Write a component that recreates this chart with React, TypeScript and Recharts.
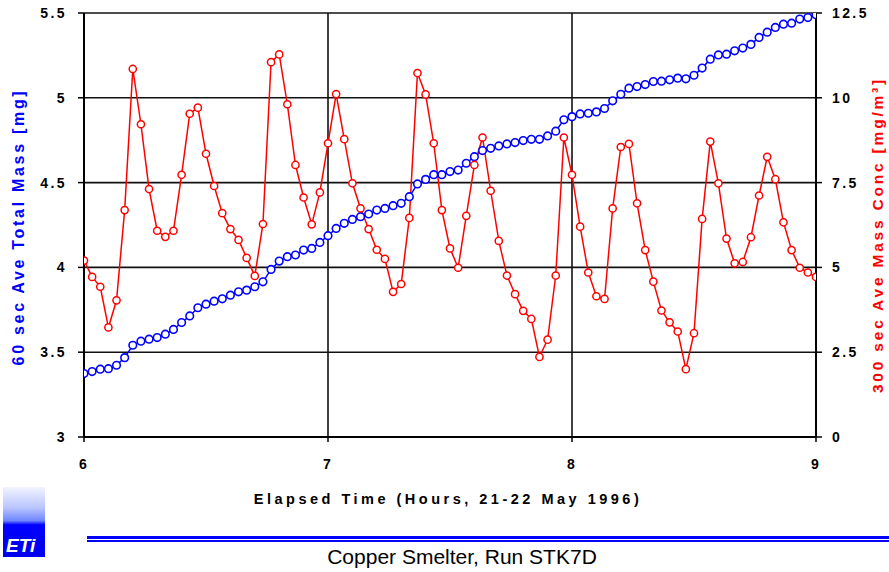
import {
  LineChart,
  Line,
  XAxis,
  YAxis,
  CartesianGrid,
  Label,
} from "recharts";

// sampling: one point every 2 minutes, from 5:58 to 9:02 (hours)
const START_HOUR = 6;
const STEP_MIN = 2;

// 60 sec average total mass [mg], left axis (first/last points fall outside the plot)
const totalMass = [
  3.36,
  3.374, 3.386, 3.4, 3.403, 3.423, 3.468, 3.541, 3.565, 3.577, 3.586,
  3.606, 3.634, 3.675, 3.714, 3.762, 3.783, 3.801, 3.815, 3.836, 3.856,
  3.866, 3.886, 3.915, 3.988, 4.037, 4.063, 4.073, 4.102, 4.112, 4.147,
  4.187, 4.23, 4.26, 4.283, 4.299, 4.315, 4.338, 4.348, 4.364, 4.378,
  4.417, 4.492, 4.519, 4.547, 4.547, 4.565, 4.574, 4.614, 4.653, 4.689,
  4.702, 4.716, 4.728, 4.736, 4.748, 4.755, 4.755, 4.775, 4.803, 4.87,
  4.889, 4.905, 4.909, 4.917, 4.937, 4.982, 5.021, 5.057, 5.066, 5.078,
  5.096, 5.098, 5.106, 5.116, 5.112, 5.133, 5.175, 5.228, 5.253, 5.257,
  5.277, 5.293, 5.315, 5.356, 5.387, 5.415, 5.434, 5.44, 5.464, 5.473,
  5.49,
  5.51,
];

// 300 sec average mass concentration [mg/m3], right axis
const massConc = [
  5.73,
  5.2, 4.72, 4.43, 3.23, 4.03, 6.69, 10.85, 9.22, 7.31, 6.08,
  5.9, 6.08, 7.73, 9.53, 9.71, 8.35, 7.4, 6.6, 6.13, 5.81,
  5.28, 4.75, 6.28, 11.05, 11.28, 9.81, 8.02, 7.06, 6.27, 7.21,
  8.66, 10.11, 8.78, 7.48, 6.74, 6.13, 5.52, 5.25, 4.28, 4.51,
  6.46, 10.73, 10.1, 8.66, 6.69, 5.56, 4.99, 6.52, 8.02, 8.83,
  7.26, 5.78, 4.76, 4.21, 3.72, 3.48, 2.36, 2.87, 4.76, 8.83,
  7.73, 6.2, 4.85, 4.15, 4.07, 6.74, 8.55, 8.64, 6.89, 5.51,
  4.58, 3.73, 3.38, 3.11, 2.0, 3.06, 6.43, 8.71, 7.48, 5.85,
  5.12, 5.16, 5.89, 7.12, 8.26, 7.6, 6.33, 5.51, 4.99, 4.85,
  4.72,
  4.46,
];

const xTicks = [6, 7, 8, 9];
const massTicks = [3, 3.5, 4, 4.5, 5, 5.5];
const concTicks = [0, 2.5, 5, 7.5, 10, 12.5];

const data = massConc.map((conc, i) => ({
  hour: START_HOUR + ((i - 1) * STEP_MIN) / 60,
  mass: totalMass[i],
  conc,
}));

const FONT = "'Liberation Sans', Arial, sans-serif";
const tickStyle = {
  fontFamily: FONT,
  fontSize: 14,
  fontWeight: 700,
  fill: "#000",
  letterSpacing: 2.4,
};

function AxisTitle({ viewBox, dx, dy, angle, color, text, size, spacing }: any) {
  const cx = viewBox.x + dx;
  const cy = viewBox.y + dy;
  return (
    <text
      x={cx}
      y={cy}
      transform={`rotate(${angle} ${cx} ${cy})`}
      textAnchor="middle"
      dominantBaseline="central"
      fill={color}
      style={{
        fontFamily: FONT,
        fontSize: size,
        fontWeight: 700,
        letterSpacing: spacing,
      }}
    >
      {text}
    </text>
  );
}

export default function App() {
  return (
    <div
      style={{
        position: "absolute",
        left: 0,
        top: 0,
        width: 889,
        height: 572,
        background: "#fff",
      }}
    >
      <LineChart
        width={889}
        height={572}
        data={data}
        margin={{ top: 13, right: 0, bottom: 0, left: 0 }}
      >
        <CartesianGrid
          yAxisId="mass"
          stroke="#111"
          strokeWidth={1.6}
          horizontalValues={massTicks}
          verticalValues={xTicks}
        />
        <XAxis
          dataKey="hour"
          type="number"
          domain={[6, 9]}
          ticks={xTicks}
          allowDataOverflow
          height={135}
          tickSize={5}
          tickMargin={17}
          tick={tickStyle}
          axisLine={{ stroke: "#000", strokeWidth: 2 }}
          tickLine={{ stroke: "#000", strokeWidth: 1.5 }}
        >
          <Label
            content={(p: any) => (
              <AxisTitle
                viewBox={p.viewBox}
                dx={364}
                dy={62}
                angle={0}
                size={14.5}
                spacing={3.5}
                color="#000"
                text="Elapsed Time (Hours, 21-22 May 1996)"
              />
            )}
          />
        </XAxis>
        <YAxis
          yAxisId="mass"
          orientation="left"
          domain={[3, 5.5]}
          ticks={massTicks}
          allowDataOverflow
          width={84}
          tickSize={6}
          tickMargin={11}
          tick={tickStyle}
          axisLine={{ stroke: "#000", strokeWidth: 2 }}
          tickLine={{ stroke: "#000", strokeWidth: 1.5 }}
        >
          <Label
            content={(p: any) => (
              <AxisTitle
                viewBox={p.viewBox}
                dx={18}
                dy={214}
                angle={-90}
                size={16}
                spacing={2.7}
                color="#0000ff"
                text="60 sec Ave Total Mass  [mg]"
              />
            )}
          />
        </YAxis>
        <YAxis
          yAxisId="conc"
          orientation="right"
          domain={[0, 12.5]}
          ticks={concTicks}
          allowDataOverflow
          width={73}
          tickSize={6}
          tickMargin={10}
          tick={tickStyle}
          axisLine={{ stroke: "#000", strokeWidth: 2 }}
          tickLine={{ stroke: "#000", strokeWidth: 1.5 }}
        >
          <Label
            content={(p: any) => (
              <AxisTitle
                viewBox={p.viewBox}
                dx={61}
                dy={222}
                angle={-90}
                size={15.5}
                spacing={2.8}
                color="#ff0000"
                text="300 sec Ave Mass Conc  [mg/m³]"
              />
            )}
          />
        </YAxis>
        <Line
          yAxisId="mass"
          dataKey="mass"
          type="linear"
          stroke="#0000ff"
          strokeWidth={1.5}
          dot={{ r: 3.8, fill: "#fff", stroke: "#0000ff", strokeWidth: 1.6 }}
          isAnimationActive={false}
        />
        <Line
          yAxisId="conc"
          dataKey="conc"
          type="linear"
          stroke="#ff0000"
          strokeWidth={1.5}
          dot={{ r: 3.6, fill: "#fff", stroke: "#ff0000", strokeWidth: 1.5 }}
          isAnimationActive={false}
        />
      </LineChart>

      {/* logo */}
      <div
        style={{
          position: "absolute",
          left: 3,
          top: 487,
          width: 42,
          height: 70,
          background:
            "linear-gradient(to bottom, #f2f4ff 0%, #b8c4ff 30%, #6f86ff 48%, #0000ff 54%, #0000ee 100%)",
        }}
      >
        <div
          style={{
            position: "absolute",
            left: 3,
            bottom: 1,
            color: "#fff",
            fontFamily: FONT,
            fontWeight: 700,
            fontStyle: "italic",
            fontSize: 19,
            lineHeight: "20px",
          }}
        >
          ETi
        </div>
      </div>

      {/* double rule */}
      <div
        style={{
          position: "absolute",
          left: 87,
          top: 536,
          width: 802,
          height: 3,
          background: "#0000ff",
        }}
      />
      <div
        style={{
          position: "absolute",
          left: 87,
          top: 540,
          width: 802,
          height: 2,
          background: "#0000ff",
        }}
      />

      <div
        style={{
          position: "absolute",
          left: 262,
          top: 546,
          width: 400,
          textAlign: "center",
          fontFamily: "'Liberation Sans Narrow', 'Liberation Sans', Arial, sans-serif",
          fontSize: 21,
          lineHeight: "22px",
          color: "#000",
        }}
      >
        Copper Smelter, Run STK7D
      </div>
    </div>
  );
}
